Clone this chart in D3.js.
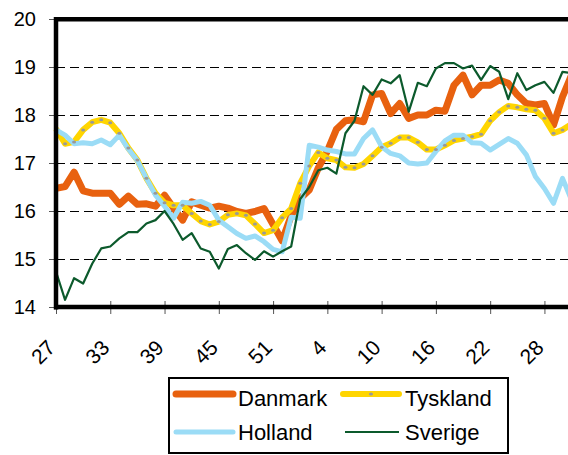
<!DOCTYPE html>
<html>
<head>
<meta charset="utf-8">
<script src="https://cdn.jsdelivr.net/npm/d3@7"></script>
<style>
  html, body { margin: 0; padding: 0; background: #fff; }
  svg { display: block; font-family: "Liberation Sans", Arial, sans-serif; }
</style>
</head>
<body>
<svg id="chart" width="568" height="455"></svg>
<script>
// Week numbers (week 27 .. 53, then 1 .. 31)
const weeks = ["27","28","29","30","31","32","33","34","35","36","37","38","39","40","41","42","43","44","45","46","47","48","49","50","51","52","53",
               "1","2","3","4","5","6","7","8","9","10","11","12","13","14","15","16","17","18","19","20","21","22","23","24","25","26","27b","28b","29b","30b","31b"];
const weekLabels = ["27","33","39","45","51","4","10","16","22","28b"];
const weekText = w => w.replace("b", "");
const yTicks = [14, 15, 16, 17, 18, 19, 20];

const danmark = [16.47,16.51,16.81,16.42,16.37,16.37,16.37,16.14,16.31,16.14,16.15,16.10,16.33,16.06,15.81,16.19,16.12,16.06,16.10,16.06,15.99,15.95,15.99,16.05,15.72,15.38,15.90,16.26,16.44,16.90,17.25,17.70,17.88,17.90,17.86,18.42,18.45,18.03,18.24,17.93,18.00,18.00,18.10,18.08,18.62,18.83,18.42,18.62,18.62,18.73,18.66,18.42,18.24,18.21,18.24,17.79,18.38,18.83];
const tyskland = [17.71,17.40,17.44,17.69,17.85,17.90,17.84,17.62,17.31,17.06,16.68,16.37,16.17,16.12,16.12,15.95,15.79,15.72,15.78,15.92,15.95,15.91,15.73,15.54,15.60,15.86,16.05,16.58,16.94,17.22,17.10,17.06,16.91,16.90,16.98,17.15,17.33,17.41,17.53,17.53,17.43,17.28,17.28,17.37,17.47,17.51,17.55,17.60,17.88,18.06,18.19,18.16,18.12,18.10,17.93,17.62,17.69,17.81];
const holland = [17.69,17.58,17.40,17.42,17.40,17.48,17.38,17.58,17.29,17.05,16.68,16.33,16.10,15.85,16.18,16.16,16.20,16.12,15.81,15.67,15.53,15.43,15.48,15.36,15.20,15.15,15.87,15.85,17.37,17.33,17.27,17.24,17.19,17.19,17.51,17.69,17.34,17.20,17.15,17.00,16.98,17.00,17.24,17.46,17.58,17.58,17.42,17.41,17.27,17.39,17.51,17.41,17.17,16.72,16.47,16.16,16.68,16.23];
const sverige = [14.74,14.15,14.60,14.49,14.90,15.22,15.26,15.43,15.56,15.56,15.74,15.81,16.00,15.73,15.40,15.54,15.22,15.15,14.80,15.21,15.29,15.12,14.98,15.16,15.05,15.16,15.26,16.25,16.50,16.85,16.90,16.78,17.62,17.88,18.60,18.42,18.74,18.66,18.83,18.07,18.67,18.60,18.97,19.08,19.08,18.97,19.03,18.73,19.02,18.90,18.33,18.87,18.52,18.62,18.69,18.46,18.90,18.87];

const seriesNames = ["Danmark", "Tyskland", "Holland", "Sverige"];
const seriesValues = [danmark, tyskland, holland, sverige];
const seriesColors = ["#E8610F", "#FFD500", "#9BDCF6", "#0C5A2C"];
const seriesWidths = [7, 6, 5, 2.2];

const svg = d3.select("#chart");
const x = d3.scalePoint().domain(weeks).range([56, 56 + 57 * 9.045]);
const y = d3.scaleLinear().domain([14, 20]).range([307, 19]);

// gridlines
svg.append("g").selectAll("line")
  .data([15, 16, 17, 18, 19]).join("line")
  .attr("x1", 56).attr("x2", 568)
  .attr("y1", d => Math.round(y(d)) + 0.5).attr("y2", d => Math.round(y(d)) + 0.5)
  .attr("stroke", "#000").attr("stroke-width", 1)
  .attr("stroke-dasharray", "9,5");

// lines
const line = d3.line().x((d, i) => x(weeks[i])).y(d => y(d));
seriesValues.forEach((vals, k) => {
  svg.append("path").datum(vals)
    .attr("d", line)
    .attr("fill", "none")
    .attr("stroke", seriesColors[k])
    .attr("stroke-width", seriesWidths[k])
    .attr("stroke-linejoin", "round")
    .attr("stroke-linecap", "butt");
});
// Tyskland markers
svg.append("g").selectAll("ellipse")
  .data(tyskland).join("ellipse")
  .attr("cx", (d, i) => x(weeks[i])).attr("cy", d => y(d))
  .attr("rx", 2).attr("ry", 1.5)
  .attr("fill", "#999");

// y axis
const yAxis = svg.append("g").attr("transform", "translate(56,0)")
  .call(d3.axisLeft(y).tickValues(yTicks).tickSize(7).tickPadding(13).tickFormat(d3.format("d")));
yAxis.select(".domain").remove();
yAxis.selectAll(".tick line").attr("stroke", "#555");
yAxis.selectAll(".tick text").attr("font-size", 20).attr("fill", "#000")
  .attr("font-family", "Liberation Sans, Arial, sans-serif");

// x axis
const xAxis = svg.append("g").attr("transform", "translate(0,307)")
  .call(d3.axisBottom(x).tickValues(weekLabels).tickSize(7).tickFormat(weekText));
xAxis.select(".domain").remove();
xAxis.selectAll(".tick line").attr("y1", -6).attr("y2", 7).attr("stroke", "#555");
xAxis.selectAll(".tick text")
  .attr("x", 0).attr("y", 0).attr("dy", 0)
  .attr("transform", "translate(0,42) rotate(-45)")
  .style("text-anchor", "end")
  .attr("font-size", 21).attr("fill", "#000")
  .attr("font-family", "Liberation Sans, Arial, sans-serif");

// frame lines (left axis, bottom axis, top border)
svg.append("line").attr("x1", 56).attr("x2", 56).attr("y1", 17).attr("y2", 309.5)
  .attr("stroke", "#000").attr("stroke-width", 4.5);
svg.append("line").attr("x1", 54).attr("x2", 568).attr("y1", 307).attr("y2", 307)
  .attr("stroke", "#000").attr("stroke-width", 4.5);
svg.append("line").attr("x1", 54).attr("x2", 568).attr("y1", 19.3).attr("y2", 19.3)
  .attr("stroke", "#000").attr("stroke-width", 4.5);

// legend
const lg = svg.append("g");
lg.append("rect").attr("x", 169).attr("y", 378).attr("width", 339).attr("height", 75)
  .attr("fill", "#fff").attr("stroke", "#000").attr("stroke-width", 2);
const legendPos = [
  {lx1: 176, lx2: 233, ly: 394, tx: 238, ty: 406},
  {lx1: 343, lx2: 399, ly: 394, tx: 405, ty: 406},
  {lx1: 176, lx2: 233, ly: 432, tx: 238, ty: 440},
  {lx1: 345, lx2: 399, ly: 432, tx: 405, ty: 440}
];
seriesNames.forEach((name, k) => {
  const p = legendPos[k];
  lg.append("line").attr("x1", p.lx1).attr("x2", p.lx2).attr("y1", p.ly).attr("y2", p.ly)
    .attr("stroke", seriesColors[k]).attr("stroke-width", seriesWidths[k])
    .attr("stroke-linecap", k === 3 ? "butt" : "round");
  if (k === 1) {
    lg.append("ellipse").attr("cx", (p.lx1 + p.lx2) / 2).attr("cy", p.ly)
      .attr("rx", 2).attr("ry", 1.5).attr("fill", "#999");
  }
  lg.append("text").attr("x", p.tx).attr("y", p.ty).attr("font-size", 22)
    .attr("fill", "#000").text(name);
});
</script>
</body>
</html>
